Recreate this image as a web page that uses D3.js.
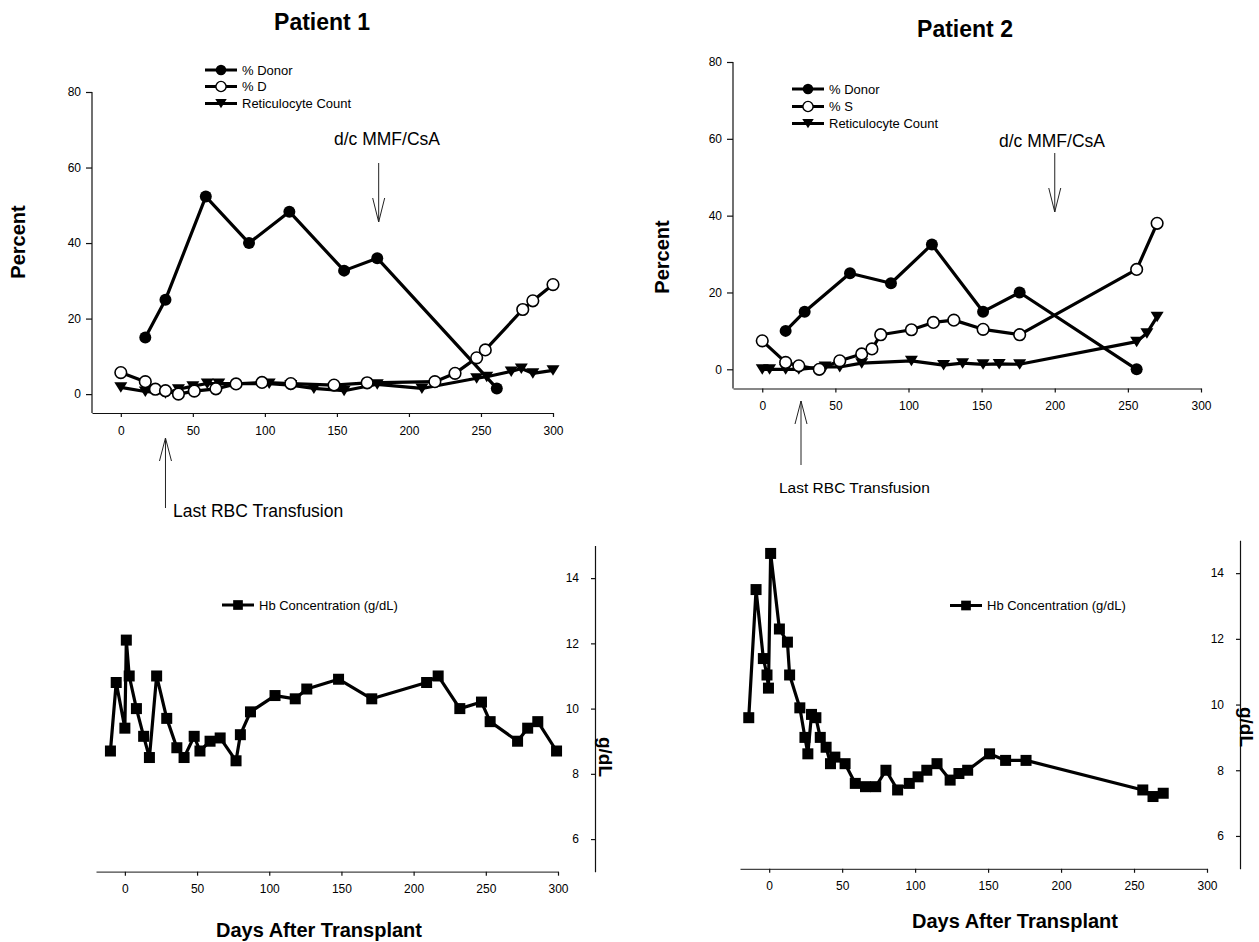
<!DOCTYPE html>
<html><head><meta charset="utf-8">
<script src="https://cdn.jsdelivr.net/npm/d3@7"></script>
<style>
body{margin:0;background:#fff}
svg{display:block}
text{font-family:"Liberation Sans",Arial,Helvetica,sans-serif;fill:#000}
</style></head><body>
<svg id="c" width="1259" height="942"></svg>
<script>
// ---------- tick labels ----------
const dayTicks = [0, 50, 100, 150, 200, 250, 300];
const pctTicks = [0, 20, 40, 60, 80];
const hbTicks = [6, 8, 10, 12, 14];

// ---------- Patient 1, top panel ----------
const p1DonorDay = [17, 31, 59, 89, 117, 155, 178, 261];
const p1DonorPct = [15, 25, 52.3, 40, 48.3, 32.7, 36, 1.5];
const p1DDay = [0, 17, 24, 31, 40, 51, 66, 80, 98, 118, 148, 171, 218, 232, 247, 253, 279, 286, 300];
const p1DPct = [5.7, 3.3, 1.3, 0.9, 0, 0.8, 1.4, 2.7, 3.1, 2.8, 2.4, 3, 3.3, 5.5, 9.6, 11.7, 22.4, 24.7, 29];
const p1RetDay = [0, 17, 31, 40, 50, 60, 68, 103, 118, 134, 155, 178, 209, 247, 254, 271, 278, 286, 300];
const p1RetPct = [1.8, 0.7, 0.2, 1.3, 2.1, 2.8, 2.8, 2.8, 2.4, 1.5, 0.9, 2.6, 1.5, 4.2, 4.6, 6, 6.8, 5.5, 6.3];

// ---------- Patient 2, top panel ----------
const p2DonorDay = [16, 29, 60, 88, 116, 151, 176, 256];
const p2DonorPct = [10, 15, 25, 22.4, 32.5, 15, 20, 0];
const p2SDay = [0, 16, 25, 39, 53, 68, 75, 81, 102, 117, 131, 151, 176, 256, 270];
const p2SPct = [7.4, 1.8, 0.9, 0, 2.2, 4, 5.3, 9, 10.3, 12.2, 12.8, 10.4, 9, 26, 38];
const p2RetDay = [0, 5, 16, 25, 43, 53, 68, 102, 124, 137, 151, 162, 176, 256, 263, 270];
const p2RetPct = [0, 0, 0, 0, 0.7, 0.6, 1.6, 2.2, 1.1, 1.6, 1.3, 1.4, 1.3, 7.2, 9.4, 13.7];

// ---------- Hb concentration (g/dL) ----------
const p1HbDay = [-10, -6, 0, 1, 3, 8, 13, 17, 22, 29, 36, 41, 48, 52, 59, 66, 77, 80, 87, 104, 118, 126, 148, 171, 209, 217, 232, 247, 253, 272, 279, 286, 299];
const p1HbVal = [8.7, 10.8, 9.4, 12.1, 11, 10, 9.15, 8.5, 11, 9.7, 8.8, 8.5, 9.15, 8.7, 9, 9.1, 8.4, 9.2, 9.9, 10.4, 10.3, 10.6, 10.9, 10.3, 10.8, 11, 10, 10.2, 9.6, 9, 9.4, 9.6, 8.7];
const p2HbDay = [-14, -9, -4, -1.5, -0.5, 1, 7, 12.5, 14, 21, 24.5, 26.5, 29, 32, 35, 39, 42, 45, 52, 59, 66, 73, 80, 88, 96, 102, 108, 115, 124, 130, 136, 151, 162, 176, 256, 263, 270];
const p2HbVal = [9.6, 13.5, 11.4, 10.9, 10.5, 14.6, 12.3, 11.9, 10.9, 9.9, 9.0, 8.5, 9.7, 9.6, 9.0, 8.7, 8.2, 8.4, 8.2, 7.6, 7.5, 7.5, 8.0, 7.4, 7.6, 7.8, 8.0, 8.2, 7.7, 7.9, 8.0, 8.5, 8.3, 8.3, 7.4, 7.2, 7.3];

const zip = (xs, ys) => xs.map((x, i) => [x, ys[i]]);

const svg = d3.select("#c");

const shapes = {
  filled: g => g.append("circle").attr("r", 6).attr("fill", "#000"),
  open: g => g.append("circle").attr("r", 5.8).attr("fill", "#fff").attr("stroke", "#000").attr("stroke-width", 1.6),
  tri: g => g.append("path").attr("d", "M-6.5,-5L6.5,-5L0,5.5Z").attr("fill", "#000"),
  square: g => g.append("rect").attr("x", -5.5).attr("y", -5.5).attr("width", 11).attr("height", 11).attr("fill", "#000")
};

function drawSeries(g, x, y, data) {
  g.append("path").datum(data)
    .attr("fill", "none").attr("stroke", "#000").attr("stroke-width", 3.2)
    .attr("stroke-linejoin", "round")
    .attr("d", d3.line().x(d => x(d[0])).y(d => y(d[1])));
}
function drawMarkers(g, x, y, data, shape) {
  data.forEach(d => {
    const m = g.append("g").attr("transform", `translate(${x(d[0])},${y(d[1])})`);
    shapes[shape](m);
  });
}
function styleAxis(a) {
  a.selectAll("path,line").attr("stroke", "#111").attr("stroke-width", 1.2);
  a.selectAll("text").attr("font-size", 12).attr("fill", "#000")
    .attr("font-family", '"Liberation Sans",Arial,sans-serif');
}
function legend(g, x0, rows, fontSize) {
  rows.forEach(r => {
    g.append("line").attr("x1", x0).attr("x2", x0 + 32).attr("y1", r.y).attr("y2", r.y)
      .attr("stroke", "#000").attr("stroke-width", 3);
    const m = g.append("g").attr("transform", `translate(${x0 + 16},${r.y}) scale(0.88)`);
    shapes[r.shape](m);
    g.append("text").attr("x", x0 + 37).attr("y", r.y).attr("dy", "0.35em")
      .attr("font-size", fontSize).text(r.label);
  });
}
function arrow(g, x, y1, y2, hw, hh) {
  const dir = y2 > y1 ? -1 : 1;
  g.append("line").attr("x1", x).attr("x2", x).attr("y1", y1).attr("y2", y2)
    .attr("stroke", "#222").attr("stroke-width", 1);
  g.append("path").attr("d", `M${x - hw},${y2 + dir * hh}L${x},${y2}L${x + hw},${y2 + dir * hh}`)
    .attr("fill", "none").attr("stroke", "#222").attr("stroke-width", 1);
}

function topPanel(cfg) {
  const g = svg.append("g");
  const x = d3.scaleLinear().domain([-20, 300]).range(cfg.xr);
  const y = d3.scaleLinear().domain([-5, 80]).range(cfg.yr);
  const ax = g.append("g").attr("transform", `translate(0,${cfg.yr[0]})`)
    .call(d3.axisBottom(x).tickValues(dayTicks).tickSize(4).tickSizeOuter(0).tickPadding(9));
  styleAxis(ax);
  const ay = g.append("g").attr("transform", `translate(${cfg.xr[0]},0)`)
    .call(d3.axisLeft(y).tickValues(pctTicks).tickSize(6).tickSizeOuter(0).tickPadding(5));
  styleAxis(ay);
  ay.select(".domain").attr("d", `M0,${cfg.yr[0]}V${y(80)}`);
  const donor = zip(cfg.donorDay, cfg.donorPct);
  const second = zip(cfg.sDay, cfg.sPct);
  const ret = zip(cfg.retDay, cfg.retPct);
  drawSeries(g, x, y, donor);
  drawSeries(g, x, y, second);
  drawSeries(g, x, y, ret);
  drawMarkers(g, x, y, ret, "tri");
  drawMarkers(g, x, y, second, "open");
  drawMarkers(g, x, y, donor, "filled");
  g.append("text").attr("x", cfg.title[0]).attr("y", cfg.title[1]).attr("text-anchor", "middle")
    .attr("font-size", 23).attr("font-weight", "bold").text(cfg.titleText);
  g.append("text").attr("transform", `translate(${cfg.ylab[0]},${cfg.ylab[1]}) rotate(-90)`)
    .attr("text-anchor", "middle").attr("font-size", 20).attr("font-weight", "bold").text("Percent");
  legend(g, cfg.legX, cfg.legRows, 13);
  g.append("text").attr("x", cfg.dcText[0]).attr("y", cfg.dcText[1]).attr("text-anchor", "middle")
    .attr("font-size", 17.5).text("d/c MMF/CsA");
  arrow(g, x(cfg.dcDay), cfg.dcArrow[0], cfg.dcArrow[1], 6, 24);
  arrow(g, x(cfg.rbcDay), cfg.rbcArrow[0], cfg.rbcArrow[1], 6, 23);
  g.append("text").attr("x", cfg.rbcText[0]).attr("y", cfg.rbcText[1])
    .attr("font-size", cfg.rbcFont).text("Last RBC Transfusion");
}

function hbPanel(cfg) {
  const g = svg.append("g");
  const x = d3.scaleLinear().domain([-20, 300]).range(cfg.xr);
  const y = d3.scaleLinear().domain([5, 15]).range(cfg.yr);
  const ax = g.append("g").attr("transform", `translate(0,${cfg.yr[0]})`)
    .call(d3.axisBottom(x).tickValues(dayTicks).tickSize(4).tickSizeOuter(0).tickPadding(9));
  styleAxis(ax);
  ax.select(".domain").attr("stroke", "#444");
  const ay = g.append("g").attr("transform", `translate(${cfg.axisX},0)`)
    .call(d3.axisLeft(y).tickValues(hbTicks).tickSize(4).tickSizeOuter(0).tickPadding(12));
  styleAxis(ay);
  const hb = zip(cfg.day, cfg.val);
  drawSeries(g, x, y, hb);
  drawMarkers(g, x, y, hb, "square");
  legend(g, cfg.legX, [{ y: cfg.legY, shape: "square", label: "Hb Concentration (g/dL)" }], 13);
  g.append("text").attr("transform", `translate(${cfg.glab[0]},${cfg.glab[1]}) rotate(90)`)
    .attr("text-anchor", "middle").attr("font-size", cfg.glabFont).attr("font-weight", "bold").text("g/dL");
  g.append("text").attr("x", cfg.xlab[0]).attr("y", cfg.xlab[1]).attr("text-anchor", "middle")
    .attr("font-size", 20).attr("font-weight", "bold").text("Days After Transplant");
}

topPanel({
  xr: [92, 553], yr: [413, 92],
  donorDay: p1DonorDay, donorPct: p1DonorPct, sDay: p1DDay, sPct: p1DPct, retDay: p1RetDay, retPct: p1RetPct,
  title: [322, 30], titleText: "Patient 1", ylab: [25, 242],
  legX: 205, legRows: [
    { y: 70, shape: "filled", label: "% Donor" },
    { y: 86.5, shape: "open", label: "% D" },
    { y: 103.5, shape: "tri", label: "Reticulocyte Count" }],
  dcText: [387, 145], dcDay: 179, dcArrow: [163, 222],
  rbcDay: 31, rbcArrow: [508, 438], rbcText: [173, 517], rbcFont: 17.5
});

topPanel({
  xr: [733, 1201], yr: [388.5, 62],
  donorDay: p2DonorDay, donorPct: p2DonorPct, sDay: p2SDay, sPct: p2SPct, retDay: p2RetDay, retPct: p2RetPct,
  title: [965, 37], titleText: "Patient 2", ylab: [669, 257],
  legX: 792, legRows: [
    { y: 89, shape: "filled", label: "% Donor" },
    { y: 106.5, shape: "open", label: "% S" },
    { y: 123.5, shape: "tri", label: "Reticulocyte Count" }],
  dcText: [1052, 147], dcDay: 200, dcArrow: [153, 212],
  rbcDay: 26.5, rbcArrow: [465, 401], rbcText: [779, 493], rbcFont: 15.5
});

hbPanel({
  xr: [96, 558], yr: [871.7, 545.5], axisX: 595,
  day: p1HbDay, val: p1HbVal, legX: 222, legY: 605,
  glab: [599, 757], glabFont: 19, xlab: [319, 937]
});

hbPanel({
  xr: [740, 1207], yr: [868.8, 540.3], axisX: 1240,
  day: p2HbDay, val: p2HbVal, legX: 950, legY: 605.5,
  glab: [1240, 727], glabFont: 19, xlab: [1015, 928]
});
</script>
</body></html>
